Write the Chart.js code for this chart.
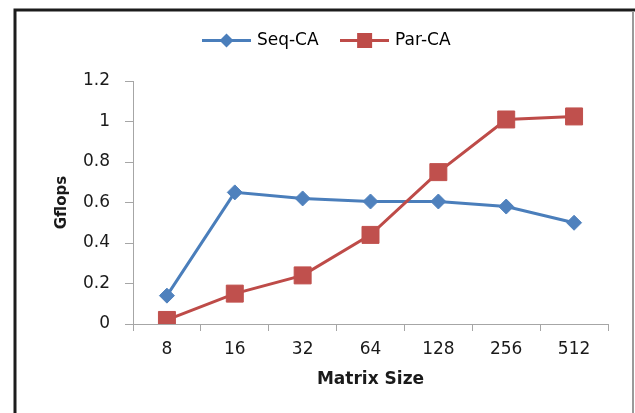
<!DOCTYPE html>
<html>
<head>
<meta charset="utf-8">
<script src="https://cdn.jsdelivr.net/npm/chart.js@4.4.0/dist/chart.umd.min.js"></script>
<style>
  html, body { margin: 0; padding: 0; background: #fff; }
  #wrap { width: 635px; height: 413px; }
</style>
</head>
<body>
<div id="wrap"><canvas id="chart" width="635" height="413"></canvas></div>
<script>
// ── data ──
const matrixSizes = ['8', '16', '32', '64', '128', '256', '512'];
const seqCA = [0.14, 0.65, 0.62, 0.605, 0.605, 0.58, 0.50];
const parCA = [0.02, 0.15, 0.24, 0.44, 0.75, 1.01, 1.025];
const yTicks = [0, 0.2, 0.4, 0.6, 0.8, 1, 1.2];

const BLUE = '#4A7EBB';
const RED = '#BE4B48';
const AXIS = '#a6a6a6';
const TEXT = '#1a1a1a';
const FONT = "'DejaVu Sans', sans-serif";

// Excel-like legend key: short line with the marker in the middle
function legendKey(color, shape) {
  const c = document.createElement('canvas');
  c.width = 49;
  c.height = 17;
  const g = c.getContext('2d');
  g.strokeStyle = color;
  g.lineWidth = 3;
  g.beginPath();
  g.moveTo(0, 8.5);
  g.lineTo(49, 8.5);
  g.stroke();
  g.fillStyle = color;
  if (shape === 'diamond') {
    g.beginPath();
    g.moveTo(24.5, 1.5);
    g.lineTo(31.5, 8.5);
    g.lineTo(24.5, 15.5);
    g.lineTo(17.5, 8.5);
    g.closePath();
    g.fill();
  } else {
    g.fillRect(17, 1, 15, 15);
  }
  return c;
}

const legendKeys = [legendKey(BLUE, 'diamond'), legendKey(RED, 'square')];

// keep the legend tall enough that the plot starts where the reference does
const legendSpacer = {
  id: 'legendSpacer',
  beforeInit(chart) {
    const fit = chart.legend.fit;
    chart.legend.fit = function () {
      fit.call(this);
      this.height = 73;
    };
  }
};

// the outer frame of the original picture
const frame = {
  id: 'frame',
  afterDraw(chart) {
    const ctx = chart.ctx;
    ctx.save();
    ctx.strokeStyle = '#1c1c1c';
    ctx.lineWidth = 3;
    ctx.beginPath();
    ctx.moveTo(15, 413);
    ctx.lineTo(15, 10);
    ctx.lineTo(635, 10);
    ctx.stroke();
    ctx.strokeStyle = '#9a9a9a';
    ctx.lineWidth = 2;
    ctx.beginPath();
    ctx.moveTo(633, 11);
    ctx.lineTo(633, 413);
    ctx.stroke();
    ctx.restore();
  }
};

new Chart(document.getElementById('chart').getContext('2d'), {
  type: 'line',
  data: {
    labels: matrixSizes,
    datasets: [
      {
        label: 'Seq-CA',
        data: seqCA,
        order: 1,
        borderColor: BLUE,
        borderWidth: 3,
        pointStyle: 'rectRot',
        pointRadius: 7.5,
        pointBackgroundColor: '#4F81BD',
        pointBorderColor: '#4F81BD',
        pointBorderWidth: 1,
        tension: 0
      },
      {
        label: 'Par-CA',
        data: parCA,
        order: 0,
        borderColor: RED,
        borderWidth: 3,
        pointStyle: 'rect',
        pointRadius: 12,
        pointBackgroundColor: '#C0504D',
        pointBorderColor: '#C0504D',
        pointBorderWidth: 1,
        tension: 0
      }
    ]
  },
  options: {
    responsive: false,
    animation: false,
    layout: { padding: { top: 8, left: 20, right: 0, bottom: 0 } },
    scales: {
      x: {
        offset: true,
        grid: { offset: true, drawOnChartArea: false, color: AXIS, tickLength: 7 },
        border: { color: AXIS, width: 1 },
        ticks: { color: TEXT, font: { family: FONT, size: 17 }, padding: 8, maxRotation: 0 },
        title: {
          display: true,
          text: 'Matrix Size',
          color: TEXT,
          font: { family: FONT, size: 17, weight: 'bold' },
          padding: { top: 0, bottom: 23 }
        },
        afterFit(scale) { scale.height = 89; }
      },
      y: {
        min: 0,
        max: 1.2,
        afterBuildTicks(scale) { scale.ticks = yTicks.map(v => ({ value: v })); },
        grid: { drawOnChartArea: false, color: AXIS, tickLength: 8 },
        border: { color: AXIS, width: 1 },
        ticks: {
          color: TEXT,
          font: { family: FONT, size: 17 },
          padding: 15,
          callback: v => String(+v.toFixed(1))
        },
        title: {
          display: true,
          text: 'Gflops',
          color: TEXT,
          font: { family: FONT, size: 15, weight: 'bold' },
          padding: { top: 33, bottom: 0 }
        },
        afterFit(scale) { scale.width = 113; }
      },
      // empty right-hand box, only reserves the margin right of the plot
      yRight: {
        position: 'right',
        grid: { display: false },
        border: { display: false },
        ticks: { display: false },
        afterFit(scale) { scale.width = 27; }
      }
    },
    plugins: {
      legend: {
        position: 'top',
        labels: {
          usePointStyle: true,
          pointStyleWidth: 44,
          padding: 24,
          color: TEXT,
          font: { family: FONT, size: 17 },
          generateLabels(chart) {
            return chart.data.datasets.map((ds, i) => ({
              text: ds.label,
              pointStyle: legendKeys[i],
              fillStyle: ds.borderColor,
              strokeStyle: ds.borderColor,
              lineWidth: 0,
              hidden: false,
              datasetIndex: i
            }));
          }
        }
      },
      tooltip: { enabled: false }
    }
  },
  plugins: [legendSpacer, frame]
});
</script>
</body>
</html>
